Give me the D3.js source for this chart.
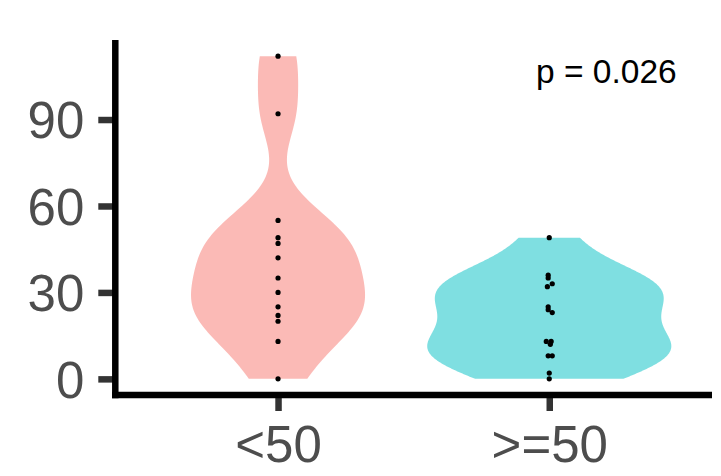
<!DOCTYPE html>
<html>
<head>
<meta charset="utf-8">
<script src="https://cdn.jsdelivr.net/npm/d3@7"></script>
<style>
  body { margin: 0; background: #fff; }
  text { font-family: "Liberation Sans", Arial, Helvetica, sans-serif; }
</style>
</head>
<body>
<svg></svg>
<script>
// Data
const groups = ["<50", ">=50"];
const colors = ["#F8766D", "#00BFC4"];
const lowValues = [0, 13, 20, 22, 25, 30, 35, 42, 47, 49, 55, 92, 112];
const highValues = [0, 2, 8, 8, 12, 13, 13, 23, 24, 25, 32, 33, 35, 36, 49];
// small horizontal jitter, as fraction of category step
const lowJitter = [0, 0, 0, 0, 0, 0, 0, 0, 0, 0, 0, 0, 0];
const highJitter = [0, 0, -0.004, 0.011, 0.004, -0.011, 0.007, 0.011, -0.004, -0.004, -0.007, 0.011, -0.004, -0.004, 0];
const yTicks = [0, 30, 60, 90];
const pLabel = "p = 0.026";

// Constants
const width = 721;
const height = 476;
const panel = { left: 115.3, right: 712, top: 40, bottom: 395 };

const svg = d3.select("svg")
    .attr("width", width)
    .attr("height", height);

// Scales
const yScale = d3.scaleLinear()
    .domain([-5.6, 117.6])
    .range([panel.bottom, panel.top]);

const xScale = d3.scalePoint()
    .domain(groups)
    .range([panel.left, panel.right])
    .padding(0.6);

// Kernel density (gaussian, bw.nrd0), trimmed to data range
function bwNrd0(v) {
  const s = d3.deviation(v);
  const iqr = d3.quantile(v, 0.75) - d3.quantile(v, 0.25);
  return 0.9 * Math.min(s, iqr / 1.34) * Math.pow(v.length, -0.2);
}

function kde(v) {
  const bw = bwNrd0(v);
  const [lo, hi] = d3.extent(v);
  return d3.range(512).map(i => {
    const y = lo + (hi - lo) * i / 511;
    const d = d3.mean(v, x => Math.exp(-0.5 * ((y - x) / bw) ** 2)) / (bw * Math.sqrt(2 * Math.PI));
    return { y, d };
  });
}

const series = [
  { name: groups[0], values: lowValues, jitter: lowJitter, color: colors[0] },
  { name: groups[1], values: highValues, jitter: highJitter, color: colors[1] }
];
series.forEach(s => s.density = kde(s.values));

const maxDensity = d3.max(series, s => d3.max(s.density, p => p.d));
const halfWidth = d3.scaleLinear()
    .domain([0, maxDensity])
    .range([0, xScale.step() * 0.45]);

// Violins
series.forEach(s => {
  const cx = xScale(s.name);
  const area = d3.area()
      .y(p => yScale(p.y))
      .x0(p => cx - halfWidth(p.d))
      .x1(p => cx + halfWidth(p.d));
  svg.append("path")
      .datum(s.density)
      .attr("d", area)
      .attr("fill", s.color)
      .attr("fill-opacity", 0.5);
});

// Points
series.forEach(s => {
  svg.append("g")
    .selectAll("circle")
    .data(s.values)
    .enter()
      .append("circle")
      .attr("cx", (d, i) => xScale(s.name) + s.jitter[i] * xScale.step())
      .attr("cy", d => yScale(d))
      .attr("r", 2.6)
      .attr("fill", "#000");
});

// Axes
const yAxis = d3.axisLeft(yScale)
    .tickValues(yTicks)
    .tickSize(17)
    .tickPadding(14)
    .tickSizeOuter(0);

const xAxis = d3.axisBottom(xScale)
    .tickSize(16)
    .tickPadding(14)
    .tickSizeOuter(0);

const gy = svg.append("g")
    .attr("transform", `translate(${panel.left},0)`)
    .call(yAxis);

const gx = svg.append("g")
    .attr("transform", `translate(0,${panel.bottom})`)
    .call(xAxis);

[gx, gy].forEach(g => {
  g.select(".domain").remove();
  g.selectAll(".tick line")
      .attr("stroke", "#333333")
      .attr("stroke-width", 6.5);
  g.selectAll(".tick text")
      .attr("fill", "#4D4D4D")
      .attr("font-size", 51)
      .attr("font-family", "'Liberation Sans', Arial, sans-serif");
});

gy.selectAll(".tick text").attr("dy", "0.36em");
gx.selectAll(".tick text").attr("dy", "0.72em");

// axis lines
svg.append("line")
    .attr("x1", panel.left).attr("x2", panel.left)
    .attr("y1", panel.top).attr("y2", panel.bottom + 3.25)
    .attr("stroke", "#000")
    .attr("stroke-width", 6.5);

svg.append("line")
    .attr("x1", panel.left - 3.25).attr("x2", panel.right)
    .attr("y1", panel.bottom).attr("y2", panel.bottom)
    .attr("stroke", "#000")
    .attr("stroke-width", 6.5);

// p-value label
svg.append("text")
    .attr("x", 536)
    .attr("y", 83)
    .attr("font-size", 33.5)
    .attr("fill", "#000")
    .text(pLabel);
</script>
</body>
</html>
